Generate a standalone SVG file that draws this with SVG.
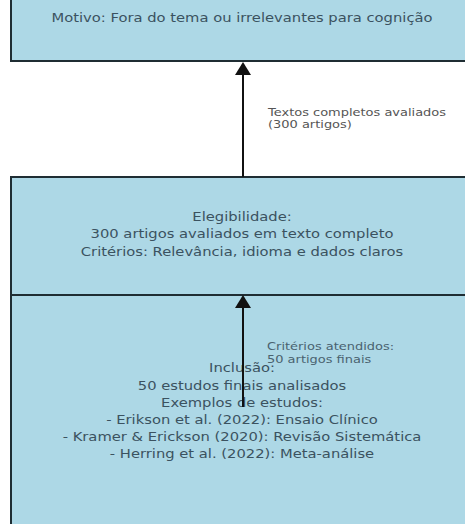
<svg xmlns="http://www.w3.org/2000/svg" width="465" height="524" viewBox="0 0 465 524">
  <style>
    .box { fill: #add8e6; stroke: #1f2d33; stroke-width: 2; }
    .t { font-family: "DejaVu Sans", "Liberation Sans", sans-serif; font-size: 12.5px; fill: #3b5260; text-anchor: middle; }
    .lbl { font-family: "DejaVu Sans", "Liberation Sans", sans-serif; font-size: 11px; fill: #555; text-anchor: start; }
    .lblb { fill: #4a6370; }
    .edge { stroke: #111; stroke-width: 2; fill: none; marker-end: url(#arrow); }
  </style>
  <defs>
    <marker id="arrow" viewBox="0 0 13 16" refX="11" refY="8" markerWidth="13" markerHeight="16" markerUnits="userSpaceOnUse" orient="auto">
      <path d="M0,0 L13,8 L0,16 z" fill="#111"/>
    </marker>
  </defs>
  <rect width="465" height="524" fill="#ffffff"/>

  <g id="exclusao">
    <rect class="box" x="11" y="-40" width="470" height="101"/>
    <g transform="translate(242,0) scale(1.18,1)">
      <text class="t" x="0" y="22.5">Motivo: Fora do tema ou irrelevantes para cognição</text>
    </g>
  </g>

  <g id="inclusao">
    <rect class="box" x="11" y="295" width="470" height="240"/>
    <g transform="translate(242,0) scale(1.18,1)">
      <text class="t" x="0" y="372.5">Inclusão:</text>
      <text class="t" x="0" y="389.7">50 estudos finais analisados</text>
      <text class="t" x="0" y="406.9">Exemplos de estudos:</text>
      <text class="t" x="0" y="424.1">- Erikson et al. (2022): Ensaio Clínico</text>
      <text class="t" x="0" y="441.3">- Kramer &amp; Erickson (2020): Revisão Sistemática</text>
      <text class="t" x="0" y="458.5">- Herring et al. (2022): Meta-análise</text>
    </g>
  </g>

  <g id="elegibilidade">
    <rect class="box" x="11" y="177" width="470" height="118"/>
    <g transform="translate(242,0) scale(1.18,1)">
      <text class="t" x="0" y="221.3">Elegibilidade:</text>
      <text class="t" x="0" y="238.5">300 artigos avaliados em texto completo</text>
      <text class="t" x="0" y="255.7">Critérios: Relevância, idioma e dados claros</text>
    </g>
  </g>

  <g id="connectors">
    <line class="edge" x1="243" y1="177" x2="243" y2="64"/>
    <g transform="translate(268,0) scale(1.18,1)">
      <text class="lbl" x="0" y="115.7">Textos completos avaliados</text>
      <text class="lbl" x="0" y="128.2">(300 artigos)</text>
    </g>
    <line class="edge" x1="243" y1="407" x2="243" y2="297"/>
    <g transform="translate(267,0) scale(1.18,1)">
      <text class="lbl lblb" x="0" y="350">Critérios atendidos:</text>
      <text class="lbl lblb" x="0" y="363">50 artigos finais</text>
    </g>
  </g>
</svg>
